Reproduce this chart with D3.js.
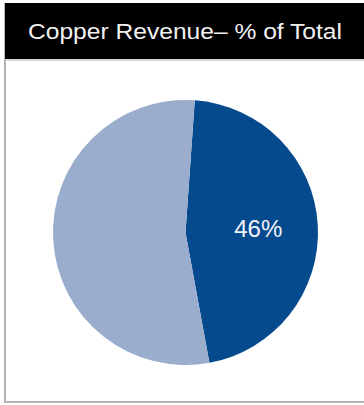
<!DOCTYPE html>
<html>
<head>
<meta charset="utf-8">
<script src="https://cdn.jsdelivr.net/npm/d3@7"></script>
<style>
  html, body { margin: 0; padding: 0; background: #ffffff; }
  svg { display: block; }
</style>
</head>
<body>
<svg id="chart" width="364" height="405"></svg>
<script>
// Copper revenue share
const title = "Copper Revenue\u2013 % of Total";
const categories = ["Copper", "Other"];
const values = [46, 54];
const labels = ["46%", ""];
const colors = ["#064a8e", "#9aadcd"];

const svg = d3.select("#chart");
const W = 364, H = 405;

// outer frame
svg.append("rect")
  .attr("x", 5).attr("y", 4)
  .attr("width", W + 5).attr("height", H - 4 - 3)
  .attr("fill", "#ffffff")
  .attr("stroke", "#b4b4b4")
  .attr("stroke-width", 2);

// title bar
svg.append("rect")
  .attr("x", 5).attr("y", 3)
  .attr("width", W - 5).attr("height", 56)
  .attr("fill", "#000000");
svg.append("line")
  .attr("x1", 5).attr("x2", W)
  .attr("y1", 60).attr("y2", 60)
  .attr("stroke", "#c8c8c8").attr("stroke-width", 1.5);

const t = svg.append("text")
  .attr("x", 185).attr("y", 39)
  .attr("text-anchor", "middle")
  .attr("fill", "#f2f2f2")
  .style("font-family", "'Liberation Sans', Arial, sans-serif")
  .style("font-size", "22px")
  .text(title);
// fit the title to its intended width
const tw = t.node().getComputedTextLength();
t.attr("textLength", 314).attr("lengthAdjust", "spacingAndGlyphs");

// pie
const cx = 185.5, cy = 232.5, r = 132.5;
const offset = 0.07;
const pie = d3.pie().sort(null).value(d => d.value)
  .startAngle(offset).endAngle(2 * Math.PI + offset);
const arc = d3.arc().innerRadius(0).outerRadius(r);

const data = categories.map((c, i) => ({ name: c, value: values[i], label: labels[i], color: colors[i] }));
const g = svg.append("g").attr("transform", `translate(${cx},${cy})`);

const arcs = pie(data);
g.selectAll("path").data(arcs).enter().append("path")
  .attr("d", arc)
  .attr("fill", d => d.data.color);

const labelArc = d3.arc().innerRadius(r * 0.55).outerRadius(r * 0.55);
g.selectAll("text.lbl").data(arcs.filter(d => d.data.label)).enter().append("text")
  .attr("class", "lbl")
  .attr("transform", d => {
    const [x, y] = labelArc.centroid(d);
    return `translate(${x},${y})`;
  })
  .attr("text-anchor", "middle")
  .attr("dy", "0.35em")
  .attr("fill", "#eef2f8")
  .style("font-family", "'Liberation Sans', Arial, sans-serif")
  .style("font-size", "24px")
  .text(d => d.data.label);
</script>
</body>
</html>
